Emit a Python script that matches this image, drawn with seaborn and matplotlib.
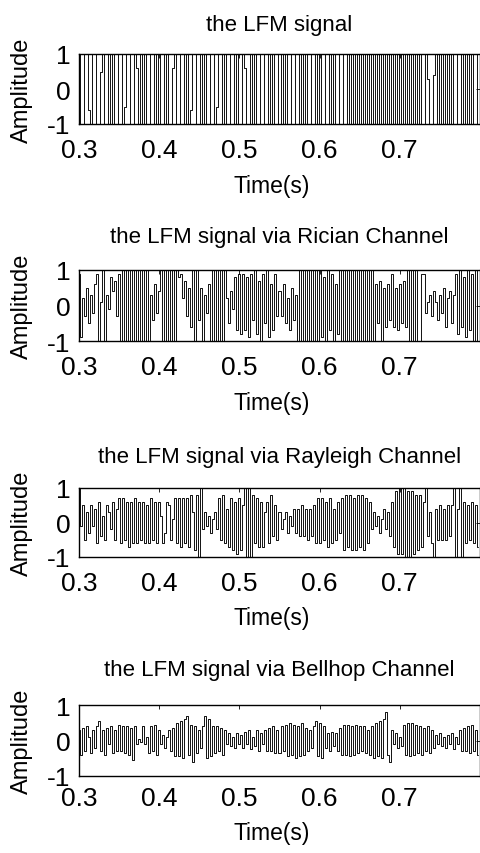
import numpy as np
import pandas as pd
import matplotlib
matplotlib.use("Agg")
import matplotlib.pyplot as plt
import seaborn as sns

# ---------------- data (2.5 ms sample step) ----------------
t_start = 0.3
t_step = 0.0025

titles = ["the LFM signal",
          "the LFM signal via Rician Channel",
          "the LFM signal via Rayleigh Channel",
          "the LFM signal via Bellhop Channel"]

lfm = [
    1, -1, -1, 1, 1, -0.6, -1, 1, 1, -1, -1, 0.5, 1, -1, -1, 1, -1, 1, -1, -1,
    1, 1, -1, -0.5, 1, 1, -1, -1, 1, 0.6, -1, 1, -1, 1, -1, -1, 1, 1, -1, 1,
    -1, 1, 1, -1, 1, -1, -1, 0.6, 1, -1, -1, 1, 1, -1, 1, -1, -0.6, 1, 1, -1,
    -1, 1, -1, 1, -1, -1, 1, 1, -1, -0.5, 1, 1, -1, 1, -1, -1, 1, 1, -1, 1,
    -1, -1, 1, 0.6, -1, -1, 1, -1, 1, -1, -1, 1, 1, -1, -1, 1, -1, 1, -1, -1,
    1, -1, 1, -1, 1, 1, -1, -1, 1, 1, -1, 1, -1, 1, -1, -1, 1, 1, -1, 1,
    -1, 1, 1, -1, -1, 1, -1, 1, -1, -1, 1, 1, -1, -1, 1, -1, 1, -1, 1, -1,
    1, -1, 1, -1, 1, -1, 1, -1, 1, -1, 1, -1, 1, -1, 1, -1, 1, -1, 1, -1,
    1, -1, 1, -1, 1, -1, 1, -1, 1, -1, 1, -1, -1, 1, 0.3, -1, -1, 0.4, 1, -1,
    1, -1, 1, -1, 1, -1, 1, -1, -1, 1, 1, -1, 1, -1, 1, -1, 1, -1, -1, 1,
]

rician = [
    0.9, -0.9, 0.2, -0.3, 0.5, -0.5, 0.3, -0.2, 0.6, 0.9, -1, 0.1, 1, -1, 0.3, -0.1, 0.8, 0.4, 0.7, -0.3,
    0.9, -1, 1, -1, 1, -1, 1, -1, 1, -1, 1, -1, 1, -1, 1, -1, 0.3, -0.4, 0.6, -0.2,
    0.4, 1, -1, 1, -1, 1, -1, 1, -1, 1, 0.8, 0.9, 0.2, 0.7, -0.3, 0.5, -0.6, 1, -1, 1,
    -0.4, 0.5, -1, 0.3, -0.2, 0.6, -1, 1, -1, 1, -1, 1, -1, 1, 0.2, -0.5, 0.4, -0.1, 0.8, -0.7,
    0.9, -0.8, 0.9, -0.7, 0.8, -0.9, 0.9, -0.4, 1, -0.8, 0.7, -1, 0.9, -0.5, 1, -0.9, 0.6, -0.7, 0.9, -0.3,
    0.4, -0.3, 0.6, -0.5, 0.2, -0.7, 0.5, -0.4, 0.3, -1, 1, -1, 1, -1, 1, -1, 1, -1, 1, -1,
    1, -0.9, 0.8, -1, 1, -0.7, 0.9, -1, 0.6, -0.8, 1, -1, 1, -1, 1, -1, 1, -1, 1, -1,
    1, -1, 1, -1, 1, -1, 1, -1, 0.6, -0.5, 0.7, -1, 0.5, -0.6, 0.6, -0.4, 0.9, -0.6, 0.5, -0.7,
    0.6, -0.5, 0.7, -0.6, 1, -1, 1, -1, 1, -1, -1, 0.9, 0.9, -0.2, 0.1, 0.3, -0.3, 0.4, 0.1, -0.4,
    0.3, -0.2, 0.5, -0.6, 0.2, 0.4, -0.5, 0.3, 0.9, -0.8, 1, -0.6, 0.8, -0.9, 1, -0.7, 0.9, -1, 1, -1,
]

rayleigh = [
    1, -0.1, 0.5, -0.5, 0.3, -0.3, 0.5, -0.1, 0.4, -0.6, 0.6, -0.4, 0.2, -0.5, 0.5, 0.3, -0.2, 0.6, -0.5, 0.4,
    0.7, -0.6, 0.7, -0.5, 0.6, -0.7, 0.6, -0.6, 0.7, -0.6, 0.6, -0.5, 0.6, -0.6, 0.5, -0.6, 0.7, -0.5, 0.6, -0.6,
    0.6, 0.2, -0.6, -0.3, 0.6, 0.5, -0.5, 0.1, 0.7, -0.6, 0.7, -0.7, 0.7, -0.6, 0.7, -0.7, 0.8, 0.3, -0.8, 0.8,
    -1, 1, -0.2, 0.3, -0.1, 0.2, -0.3, 0.1, 0.3, -0.2, 0.7, -0.5, 0.8, -0.6, 0.4, -0.7, 0.7, -0.8, 0.6, -0.9,
    0.7, -0.8, 0.5, 1, -1, 1, -1, 0.8, -0.6, 0.7, -0.7, 0.6, -0.7, 0.3, 0.6, -0.6, 0.8, -0.4, 0.5, -0.5,
    0.3, -0.2, 0.1, 0.3, -0.3, 0.2, -0.1, 0.4, -0.3, 0.4, -0.4, 0.5, -0.4, 0.4, -0.5, 0.4, -0.4, 0.5, -0.6, 0.7,
    -0.6, 0.7, -0.5, 0.6, -0.7, 0.7, -0.6, 0.4, -0.5, 0.6, -0.3, 0.7, -0.8, 0.8, -0.7, 0.8, -0.8, 0.7, -0.8, 0.8,
    -0.7, 0.8, -0.8, 0.7, -0.6, 0.6, -0.2, 0.3, -0.1, 0.2, -0.3, 0.1, 0.4, -0.2, 0.3, -0.4, 0.6, -0.7, 0.9, -0.9,
    1, -0.9, 1, -1, 0.9, -1, 0.9, -0.9, 0.8, -0.8, 0.8, -0.7, 0.6, 1, -0.4, 0.3, -0.6, -1, 0.4, -0.5,
    0.5, -0.5, 0.4, -0.5, 0.5, -0.4, 0.5, 1, -1, 0.4, 1, -1, 0.6, -0.6, 0.5, -0.5, 0.6, -0.6, 0.5, -0.7,
]

bellhop = [
    0.3, -0.4, 0.35, -0.3, 0.4, 0.1, -0.35, 0.3, -0.2, 0.4, 0.55, -0.3, 0.3, -0.4, 0.35, -0.1, 0.4, -0.35, 0.3, -0.3,
    0.45, -0.3, 0.4, -0.35, 0.4, -0.4, 0.35, -0.55, 0.4, -0.1, 0.05, -0.05, 0.4, -0.1, 0.1, -0.35, 0.4, -0.3, 0.45, -0.4,
    0.3, -0.1, 0.15, -0.2, 0.1, 0.3, -0.3, 0.35, -0.45, 0.5, -0.45, 0.55, -0.5, 0.6, 0.7, -0.4, 0.45, -0.6, 0.4, -0.35,
    0.3, -0.2, 0.4, 0.7, -0.5, 0.6, -0.45, 0.4, -0.35, 0.4, -0.3, 0.35, -0.4, 0.3, -0.1, 0.2, -0.15, 0.1, -0.2, 0.2,
    -0.1, 0.15, -0.2, 0.25, -0.1, 0.3, -0.25, 0.1, -0.15, 0.3, -0.3, 0.2, -0.1, 0.3, -0.3, 0.35, -0.3, 0.4, -0.35, 0.3,
    -0.35, 0.4, -0.3, 0.45, -0.45, 0.5, -0.4, 0.45, -0.5, 0.4, -0.45, 0.5, -0.4, 0.35, -0.3, 0.3, -0.2, 0.4, 0.55, -0.45,
    0.5, -0.5, 0.4, -0.2, 0.2, -0.3, 0.25, -0.15, 0.2, -0.3, 0.35, -0.4, 0.45, -0.4, 0.45, -0.45, 0.4, -0.4, 0.45, -0.35,
    0.4, -0.3, 0.4, -0.35, 0.3, -0.4, 0.4, -0.5, 0.5, -0.45, 0.55, -0.5, 0.6, 0.8, -0.4, -0.6, 0.3, -0.1, 0.2, -0.2,
    0.1, -0.15, 0.45, -0.4, 0.5, -0.45, 0.5, -0.4, 0.45, -0.35, 0.4, -0.4, 0.35, -0.3, 0.4, -0.35, 0.3, -0.2, 0.15, -0.1,
    0.2, -0.15, 0.1, -0.2, 0.15, -0.1, 0.2, -0.25, 0.1, -0.1, 0.3, -0.3, 0.35, -0.3, 0.4, -0.35, 0.45, -0.3, 0.3, -0.4,
]

x_ticks = [0.3, 0.4, 0.5, 0.6, 0.7]
y_ticks = [-1, 0, 1]
x_label = "Time(s)"
y_label = "Amplitude"

# ---------------- figure ----------------
sns.set_style("white")
plt.rcParams["font.family"] = ["Liberation Sans", "DejaVu Sans"]
plt.rcParams["text.color"] = "black"
plt.rcParams["axes.labelcolor"] = "black"
plt.rcParams["xtick.color"] = "black"
plt.rcParams["ytick.color"] = "black"

W, H = 481, 854
fig = plt.figure(figsize=(W / 100, H / 100), dpi=100)

# axes boxes in pixels: (top, bottom)
boxes = [(55, 125), (271, 342), (489, 558), (706, 777)]
title_gap = [24, 28, 26, 30]      # px from axes top to title baseline
xlabel_gap = [50, 50, 49, 45]     # px from axes bottom to xlabel bbox top
xtick_pad = [10, 10, 10, 7]
left_px, right_px = 79, 480

series = [lfm, rician, rayleigh, bellhop]
for k, (vals, (top, bot)) in enumerate(zip(series, boxes)):
    ax = fig.add_axes([left_px / W, 1 - bot / H, (right_px - left_px) / W, (bot - top) / H])
    n = len(vals)
    df = pd.DataFrame({"t": t_start + t_step * np.arange(n), "a": vals})
    sns.lineplot(data=df, x="t", y="a", ax=ax, color="black", linewidth=0.65,
                 estimator=None, sort=False, drawstyle="steps-mid")
    ax.set_xlim(0.3, 0.8)
    ax.set_ylim(-1, 1)
    ax.set_xticks(x_ticks)
    ax.set_xticklabels([str(v) for v in x_ticks])
    ax.set_yticks(y_ticks)
    ax.set_yticklabels([str(v) for v in y_ticks])
    ax.tick_params(direction="in", top=True, right=True, length=3, width=0.6,
                   labelsize=19, colors="black")
    ax.tick_params(axis="x", pad=xtick_pad[k])
    ax.tick_params(axis="y", pad=6)
    for s in ax.spines.values():
        s.set_color("black")
        s.set_linewidth(1.0)
    ax.set_title(titles[k], fontsize=16, pad=title_gap[k] / 1.389, color="black")
    ax.set_xlabel(x_label, fontsize=16.5)
    ax.set_ylabel(y_label, fontsize=17)
    h = bot - top
    ax.xaxis.set_label_coords(0.48, -xlabel_gap[k] / h)
    ax.yaxis.set_label_coords(-(79 - 33) / (right_px - left_px), 0.5)

fig.savefig("out.png", dpi=100)
